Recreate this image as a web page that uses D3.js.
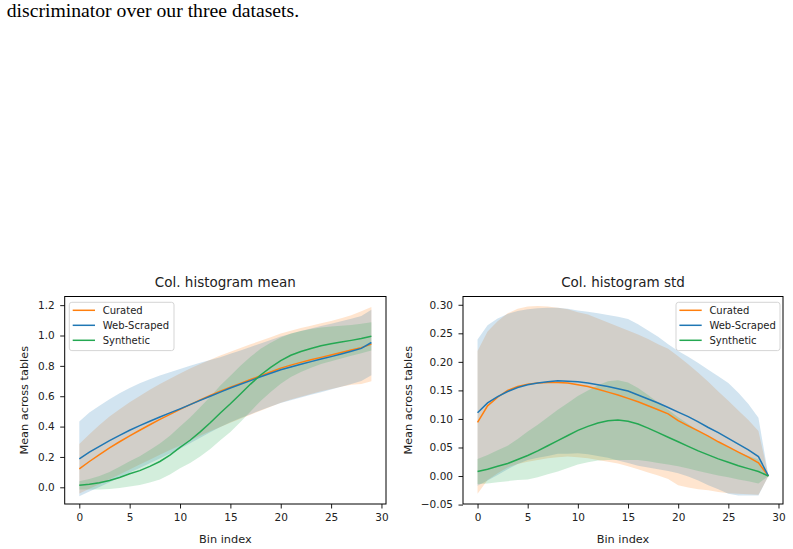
<!DOCTYPE html>
<html>
<head>
<meta charset="utf-8">
<script src="https://cdn.jsdelivr.net/npm/d3@7"></script>
<style>
  body { margin: 0; background: #fff; }
  svg { display: block; }
</style>
</head>
<body>
<div id="chart"></div>
<script>
    // data: 30 bins, mean line and std band for each dataset
    var bins = d3.range(30);
    var seriesNames = ["Curated", "Web-Scraped", "Synthetic"];
    var seriesColors = ["#ff7f0e", "#1f77b4", "#24a852"];

    // Col. histogram mean
    var meanCurated = [0.122, 0.17, 0.215, 0.26, 0.30, 0.339, 0.376, 0.412, 0.447, 0.48,
      0.513, 0.545, 0.576, 0.605, 0.633, 0.659, 0.685, 0.71, 0.735, 0.76,
      0.785, 0.805, 0.823, 0.84, 0.856, 0.872, 0.888, 0.904, 0.92, 0.943];
    var meanCuratedStd = [0.163, 0.18, 0.195, 0.207, 0.215, 0.221, 0.226, 0.23, 0.233, 0.235,
      0.237, 0.237, 0.237, 0.236, 0.235, 0.234, 0.233, 0.232, 0.23, 0.229,
      0.228, 0.227, 0.226, 0.225, 0.224, 0.224, 0.226, 0.229, 0.24, 0.245];
    var meanWeb = [0.187, 0.232, 0.27, 0.307, 0.342, 0.376, 0.406, 0.435, 0.463, 0.49,
      0.517, 0.545, 0.573, 0.60, 0.627, 0.654, 0.679, 0.703, 0.728, 0.751,
      0.774, 0.793, 0.811, 0.828, 0.845, 0.861, 0.878, 0.896, 0.915, 0.954];
    var meanWebStd = [0.246, 0.26, 0.268, 0.273, 0.277, 0.279, 0.279, 0.277, 0.273, 0.268,
      0.263, 0.255, 0.247, 0.238, 0.23, 0.226, 0.223, 0.221, 0.22, 0.219,
      0.219, 0.219, 0.219, 0.219, 0.218, 0.217, 0.216, 0.215, 0.214, 0.215];
    var meanSynth = [0.013, 0.02, 0.03, 0.045, 0.065, 0.089, 0.11, 0.138, 0.17, 0.212,
      0.263, 0.31, 0.365, 0.425, 0.49, 0.55, 0.615, 0.68, 0.74, 0.79,
      0.835, 0.87, 0.895, 0.915, 0.932, 0.945, 0.957, 0.968, 0.98, 0.995];
    var meanSynthStd = [0.027, 0.035, 0.045, 0.056, 0.07, 0.083, 0.095, 0.107, 0.118, 0.128,
      0.138, 0.15, 0.162, 0.172, 0.18, 0.185, 0.185, 0.18, 0.172, 0.162,
      0.152, 0.143, 0.135, 0.128, 0.12, 0.114, 0.108, 0.102, 0.097, 0.093];

    // Col. histogram std
    var stdCurated = [0.094, 0.123, 0.138, 0.15, 0.157, 0.161, 0.163, 0.164, 0.164, 0.163,
      0.16, 0.157, 0.152, 0.147, 0.142, 0.136, 0.13, 0.123, 0.116, 0.109,
      0.097, 0.088, 0.079, 0.07, 0.06, 0.051, 0.042, 0.033, 0.023, 0.0];
    var stdCuratedStd = [0.125, 0.13, 0.133, 0.135, 0.136, 0.136, 0.135, 0.133, 0.131, 0.129,
      0.127, 0.126, 0.124, 0.122, 0.12, 0.119, 0.118, 0.117, 0.115, 0.114,
      0.113, 0.108, 0.102, 0.095, 0.088, 0.081, 0.073, 0.065, 0.056, 0.0];
    var stdWeb = [0.111, 0.128, 0.139, 0.148, 0.155, 0.16, 0.163, 0.165, 0.167, 0.166,
      0.165, 0.163, 0.16, 0.157, 0.153, 0.149, 0.142, 0.135, 0.128, 0.12,
      0.112, 0.104, 0.095, 0.085, 0.076, 0.066, 0.056, 0.046, 0.034, 0.0];
    var stdWebStd = [0.128, 0.136, 0.137, 0.136, 0.134, 0.132, 0.131, 0.13, 0.128, 0.127,
      0.125, 0.125, 0.125, 0.125, 0.126, 0.126, 0.124, 0.12, 0.116, 0.111,
      0.107, 0.105, 0.103, 0.101, 0.099, 0.097, 0.09, 0.08, 0.068, 0.0];
    var stdSynth = [0.008, 0.012, 0.017, 0.022, 0.029, 0.036, 0.044, 0.053, 0.062, 0.071,
      0.08, 0.087, 0.093, 0.097, 0.098, 0.096, 0.091, 0.084, 0.076, 0.068,
      0.06, 0.052, 0.044, 0.037, 0.03, 0.024, 0.018, 0.013, 0.008, 0.0];
    var stdSynthStd = [0.022, 0.025, 0.028, 0.031, 0.036, 0.042, 0.046, 0.05, 0.054, 0.057,
      0.06, 0.063, 0.066, 0.069, 0.07, 0.068, 0.063, 0.058, 0.053, 0.048,
      0.043, 0.039, 0.035, 0.032, 0.029, 0.026, 0.024, 0.022, 0.021, 0.0];

    var xTicks = [0, 5, 10, 15, 20, 25, 30];
    var meanTicks = [0.0, 0.2, 0.4, 0.6, 0.8, 1.0, 1.2];
    var stdTicks = [-0.05, 0.0, 0.05, 0.10, 0.15, 0.20, 0.25, 0.30];

    var font = "'DejaVu Sans', sans-serif";

    var svg = d3.select("#chart")
      .append("svg")
      .attr("width", 793)
      .attr("height", 549);

    // leftover line of the paper text above the figure
    svg.append("text")
      .attr("x", 6.7)
      .attr("y", 17.3)
      .attr("font-family", "'Liberation Serif', 'Times New Roman', serif")
      .attr("font-size", 19.7)
      .attr("fill", "#000")
      .text("discriminator over our three datasets.");

    // A function that draws one panel
    function panel(p) {
      var x = d3.scaleLinear().domain([-1.45, 30.45]).range([p.left, p.right]);
      var y = d3.scaleLinear().domain(p.yDomain).range([p.bottom, p.top]);
      var g = svg.append("g");

      // bands first, then lines, in legend order
      p.series.forEach(function (s, k) {
        var area = d3.area()
          .x(function (d) { return x(d); })
          .y0(function (d) { return y(s.mean[d] - s.std[d]); })
          .y1(function (d) { return y(s.mean[d] + s.std[d]); });
        g.append("path")
          .attr("d", area(bins))
          .attr("fill", seriesColors[k])
          .attr("fill-opacity", 0.2);
      });
      p.series.forEach(function (s, k) {
        var line = d3.line()
          .x(function (d) { return x(d); })
          .y(function (d) { return y(s.mean[d]); });
        g.append("path")
          .attr("d", line(bins))
          .attr("fill", "none")
          .attr("stroke", seriesColors[k])
          .attr("stroke-width", 1.5);
      });

      // X axis
      var xAxis = g.append("g")
        .attr("transform", "translate(0," + p.bottom + ")")
        .call(d3.axisBottom(x).tickValues(xTicks).tickSize(4.5).tickPadding(5).tickFormat(d3.format("d")));
      // Y axis
      var yAxis = g.append("g")
        .attr("transform", "translate(" + p.left + ",0)")
        .call(d3.axisLeft(y).tickValues(p.yTicks).tickSize(4.5).tickPadding(5.5).tickFormat(d3.format(p.fmt)));
      [xAxis, yAxis].forEach(function (a) {
        a.select(".domain").remove();
        a.selectAll("line").attr("stroke", "#000").attr("stroke-width", 0.9);
        a.selectAll("text")
          .attr("font-family", font)
          .attr("font-size", 10.5)
          .attr("fill", "#222");
      });

      // frame
      g.append("rect")
        .attr("x", p.left)
        .attr("y", p.top)
        .attr("width", p.right - p.left)
        .attr("height", p.bottom - p.top)
        .attr("fill", "none")
        .attr("stroke", "#000")
        .attr("stroke-width", 1);

      // titles
      g.append("text")
        .attr("x", (p.left + p.right) / 2)
        .attr("y", 287.3)
        .attr("text-anchor", "middle")
        .attr("font-family", font)
        .attr("font-size", 13.5)
        .attr("fill", "#222")
        .text(p.title);
      g.append("text")
        .attr("x", (p.left + p.right) / 2)
        .attr("y", 543)
        .attr("text-anchor", "middle")
        .attr("font-family", font)
        .attr("font-size", 11.3)
        .attr("fill", "#222")
        .text("Bin index");
      g.append("text")
        .attr("transform", "translate(" + p.yLabelX + "," + (p.top + p.bottom) / 2 + ")rotate(-90)")
        .attr("text-anchor", "middle")
        .attr("font-family", font)
        .attr("font-size", 11.3)
        .attr("fill", "#222")
        .text("Mean across tables");

      // legend
      var lg = g.append("g").attr("transform", "translate(" + p.legendX + "," + 302.3 + ")");
      lg.append("rect")
        .attr("width", p.legendW)
        .attr("height", 48.3)
        .attr("rx", 2.5)
        .attr("fill", "#fff")
        .attr("fill-opacity", 0.8)
        .attr("stroke", "#d0d0d0")
        .attr("stroke-width", 0.9);
      seriesNames.forEach(function (name, k) {
        var ly = 8 + k * 15;
        lg.append("line")
          .attr("x1", 3.4).attr("x2", 25.7)
          .attr("y1", ly).attr("y2", ly)
          .attr("stroke", seriesColors[k])
          .attr("stroke-width", 1.5);
        lg.append("text")
          .attr("x", 33.4)
          .attr("y", ly + 3.6)
          .attr("font-family", font)
          .attr("font-size", 10)
          .attr("fill", "#222")
          .text(name);
      });
    }

    panel({
      left: 64.7, right: 386, top: 296.5, bottom: 504,
      yDomain: [-0.11, 1.257], yTicks: meanTicks, fmt: ".1f",
      title: "Col. histogram mean", yLabelX: 28, legendX: 69.3, legendW: 104.7,
      series: [
        { mean: meanCurated, std: meanCuratedStd },
        { mean: meanWeb, std: meanWebStd },
        { mean: meanSynth, std: meanSynthStd }
      ]
    });

    panel({
      left: 463, right: 783, top: 296.5, bottom: 504,
      yDomain: [-0.049, 0.3145], yTicks: stdTicks, fmt: ".2f",
      title: "Col. histogram std", yLabelX: 412, legendX: 676, legendW: 104,
      series: [
        { mean: stdCurated, std: stdCuratedStd },
        { mean: stdWeb, std: stdWebStd },
        { mean: stdSynth, std: stdSynthStd }
      ]
    });
  </script>
</body>
</html>
